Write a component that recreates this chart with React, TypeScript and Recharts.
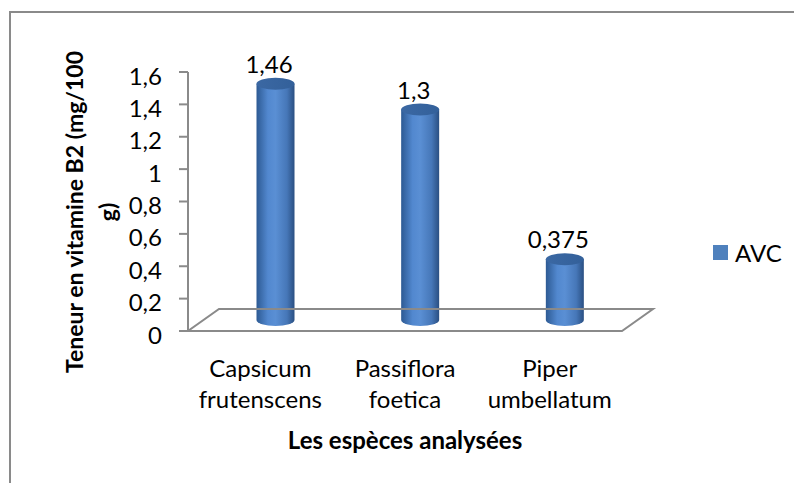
import { BarChart, Bar, XAxis, YAxis, ReferenceLine, LabelList, Legend } from "recharts";

const species = ["Capsicum frutenscens", "Passiflora foetica", "Piper umbellatum"];
const avc = [1.46, 1.3, 0.375];
const yTicks = [0, 0.2, 0.4, 0.6, 0.8, 1, 1.2, 1.4, 1.6];

const data = species.map((name, i) => ({ name, avc: avc[i] }));

const FONT = "Lato, 'Open Sans', sans-serif";
const FS = 24;
const AXIS = "#8a8a8a";
// depth of the 3D floor, cylinders sit half way back
const DX = 31;
const DY = -22;

const fmt = (v: number) => String(v).replace(".", ",");

function Cylinder(props: any) {
  const { x, y, width, height } = props;
  const rx = width / 2;
  const ry = 6;
  const cx = x + rx + DX / 2;
  const top = y + DY / 2;
  const bottom = y + height + DY / 2;
  const x0 = cx - rx;
  const x1 = cx + rx;
  return (
    <g>
      <path
        d={`M${x0},${top} L${x0},${bottom} A${rx},${ry} 0 0 0 ${x1},${bottom} L${x1},${top} Z`}
        fill="url(#cylBody)"
      />
      <ellipse cx={cx} cy={top} rx={rx} ry={ry} fill="url(#cylTop)" />
    </g>
  );
}

function Floor(props: any) {
  const { x1, x2, y1 } = props;
  const pts = [
    [x1, y1],
    [x2, y1],
    [x2 + DX, y1 + DY],
    [x1 + DX, y1 + DY],
  ]
    .map((p) => p.join(","))
    .join(" ");
  return <polygon points={pts} fill="none" stroke={AXIS} strokeWidth={2} />;
}

function YTick(props: any) {
  const { x, y, payload } = props;
  return (
    <text x={x} y={y + 3} textAnchor="end" dominantBaseline="central" fontFamily={FONT} fontSize={FS} fill="#000">
      {fmt(payload.value)}
    </text>
  );
}

function XTick(props: any) {
  const { x, y, payload } = props;
  const parts = String(payload.value).split(" ");
  return (
    <text x={x} y={y} textAnchor="middle" fontFamily={FONT} fontSize={FS} fill="#000">
      <tspan x={x} dy={38}>{parts[0]}</tspan>
      <tspan x={x} dy={31}>{parts.slice(1).join(" ")}</tspan>
    </text>
  );
}

function ValueLabel(props: any) {
  const { x, y, width, value } = props;
  return (
    <text x={x + width / 2 + 9} y={y - 22} textAnchor="middle" fontFamily={FONT} fontSize={FS} fill="#000">
      {fmt(value)}
    </text>
  );
}

function YTitle() {
  const cy = 212;
  return (
    <g fontFamily={FONT} fontSize={23} fontWeight="bold" fill="#000">
      <text x={74} y={cy} transform={`rotate(-90 74 ${cy})`} textAnchor="middle" dominantBaseline="central">
        Teneur en vitamine B2 (mg/100
      </text>
      <text x={107} y={cy} transform={`rotate(-90 107 ${cy})`} textAnchor="middle" dominantBaseline="central">
        g)
      </text>
    </g>
  );
}

function XTitle(props: any) {
  const vb = props.viewBox || {};
  return (
    <text x={vb.x + vb.width / 2} y={449} textAnchor="middle" fontFamily={FONT} fontSize={FS} fontWeight="bold" fill="#000">
      Les espèces analysées
    </text>
  );
}

function LegendBox() {
  return (
    <div style={{ display: "flex", alignItems: "center", fontFamily: FONT, fontSize: FS, color: "#000" }}>
      <span style={{ width: 15, height: 15, background: "#4f81bd", display: "inline-block", marginRight: 7 }} />
      AVC
    </div>
  );
}

export default function App() {
  return (
    <div style={{ position: "absolute", left: 0, top: 0, width: 794, height: 483, background: "#fff", overflow: "hidden" }}>
      <div
        style={{
          position: "absolute",
          left: 9,
          top: 11,
          width: 820,
          height: 500,
          borderLeft: `2px solid ${AXIS}`,
          borderTop: `2px solid ${AXIS}`,
        }}
      />
      <BarChart
        width={794}
        height={483}
        data={data}
        margin={{ top: 72, right: 172, bottom: 0, left: 0 }}
        style={{ position: "absolute", left: 0, top: 0 }}
      >
        <defs>
          <linearGradient id="cylBody" x1="0" y1="0" x2="1" y2="0">
            <stop offset="0%" stopColor="#2d5a93" />
            <stop offset="30%" stopColor="#5288cf" />
            <stop offset="50%" stopColor="#5a8fd4" />
            <stop offset="80%" stopColor="#4677b8" />
            <stop offset="100%" stopColor="#2a4f82" />
          </linearGradient>
          <linearGradient id="cylTop" x1="0" y1="0" x2="1" y2="0">
            <stop offset="0%" stopColor="#3b68a3" />
            <stop offset="100%" stopColor="#33609a" />
          </linearGradient>
        </defs>
        <ReferenceLine y={0} shape={<Floor />} />
        <XAxis
          dataKey="name"
          axisLine={false}
          tickLine={false}
          interval={0}
          height={152}
          tick={<XTick />}
          label={<XTitle />}
        />
        <YAxis
          width={188}
          domain={[0, 1.6]}
          ticks={yTicks}
          interval={0}
          axisLine={{ stroke: AXIS, strokeWidth: 2 }}
          tickLine={{ stroke: AXIS, strokeWidth: 2 }}
          tickSize={9}
          tickMargin={17}
          tick={<YTick />}
          label={<YTitle />}
        />
        <Legend
          layout="horizontal"
          align="center"
          verticalAlign="middle"
          content={<LegendBox />}
          wrapperStyle={{ position: "absolute", left: 713, top: 238, width: 80 }}
        />
        <Bar dataKey="avc" name="AVC" barSize={38} fill="#4f81bd" shape={<Cylinder />} isAnimationActive={false}>
          <LabelList dataKey="avc" content={<ValueLabel />} />
        </Bar>
      </BarChart>
    </div>
  );
}
